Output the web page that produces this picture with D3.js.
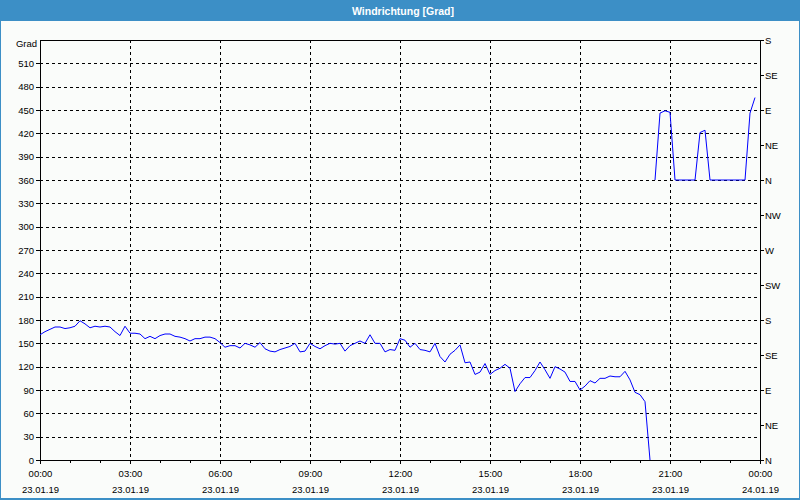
<!DOCTYPE html>
<html><head><meta charset="utf-8">
<script src="https://cdn.jsdelivr.net/npm/d3@7"></script>
<style>
body{margin:0;background:#fff;}
svg{display:block;}
</style></head><body>
<svg id="chart" width="800" height="500"></svg>
<script>
// ---------- data ----------
const chartTitle = "Windrichtung [Grad]";
const yUnitLabel = "Grad";
const startTime = new Date(2019, 0, 23, 0, 0);
const endTime = new Date(2019, 0, 24, 0, 0);
const stepMinutes = 10;
const gradTicks = [0, 30, 60, 90, 120, 150, 180, 210, 240, 270, 300, 330, 360, 390, 420, 450, 480, 510];
const compassTicks = [0, 45, 90, 135, 180, 225, 270, 315, 360, 405, 450, 495, 540];
const compassLabels = ["N", "NE", "E", "SE", "S", "SW", "W", "NW", "N", "NE", "E", "SE", "S"];
// segment 1: starts 00:00, one value every 10 min
const directionBefore = [
  161, 165, 168, 171, 171, 169, 170, 172, 179, 175, 170, 172, 171, 172, 171, 165,
  160, 172, 163, 163, 162, 156, 159, 156, 160, 162, 162, 159, 158, 156, 153, 156,
  156, 158, 158, 156, 151, 145, 147, 147, 144, 150, 148, 145, 151, 143, 140, 139,
  142, 144, 146, 150, 139, 140, 150, 146, 143, 147, 150, 149, 150, 140, 147, 150,
  153, 150, 161, 150, 150, 139, 142, 141, 156, 154, 145, 150, 142, 141, 139, 150,
  133, 126, 136, 141, 148, 125, 126, 110, 113, 124, 110, 115, 118, 123, 118, 88,
  98, 106, 106, 115, 126, 116, 105, 120, 117, 113, 101, 101, 90, 95, 102, 99,
  105, 105, 108, 107, 107, 114, 103, 87, 84, 75, 0
];
// segment 2: starts at step index 123 (20:30)
const directionAfterStartStep = 123;
const directionAfter = [
  360, 446, 449, 447, 360, 360, 360, 360, 360, 421, 424, 360, 360, 360, 360, 360,
  360, 360, 360, 446, 466
];

// ---------- layout ----------
const W = 800, H = 500;
const plot = {left: 40, right: 760, top: 40, bottom: 460};
const fontFamily = "'Liberation Sans', Arial, sans-serif";
const svg = d3.select("#chart");

svg.append("rect").attr("x", 0).attr("y", 0).attr("width", W).attr("height", H).attr("fill", "#3c8fc6");
svg.append("rect").attr("x", 1).attr("y", 21).attr("width", W - 2).attr("height", H - 23).attr("fill", "#fafcfa");
svg.append("text").attr("x", 403).attr("y", 14.5).attr("text-anchor", "middle")
  .attr("font-family", fontFamily).attr("font-weight", "bold").attr("font-size", "10.5px")
  .attr("fill", "#ffffff").text(chartTitle);

const x = d3.scaleTime().domain([startTime, endTime]).range([plot.left, plot.right]);
const y = d3.scaleLinear().domain([0, 540]).range([plot.bottom, plot.top]);

// grid
const gridG = svg.append("g").attr("stroke", "#000").attr("stroke-dasharray", "3,3")
  .attr("shape-rendering", "crispEdges");
gridG.selectAll("line.h").data(gradTicks.filter(v => v > 0)).enter().append("line")
  .attr("x1", plot.left).attr("x2", plot.right)
  .attr("y1", d => Math.round(y(d)) + 0.5).attr("y2", d => Math.round(y(d)) + 0.5);
const majorTimes = d3.timeHour.every(3).range(startTime, d3.timeMinute.offset(endTime, 1));
gridG.selectAll("line.v").data(majorTimes.slice(1, -1)).enter().append("line")
  .attr("y1", plot.top).attr("y2", plot.bottom)
  .attr("x1", d => Math.round(x(d)) + 0.5).attr("x2", d => Math.round(x(d)) + 0.5);

// top frame
svg.append("line").attr("x1", plot.left).attr("x2", plot.right + 1)
  .attr("y1", plot.top + 0.5).attr("y2", plot.top + 0.5).attr("stroke", "#000");

function styleAxis(g) {
  g.attr("font-family", fontFamily).attr("font-size", "9.5px");
  g.selectAll("path, line").attr("stroke", "#000").attr("shape-rendering", "crispEdges");
  g.selectAll("text").attr("fill", "#000");
}

// left axis
const leftG = svg.append("g").attr("transform", `translate(${plot.left},0)`)
  .call(d3.axisLeft(y).tickValues(gradTicks).tickSize(4).tickSizeOuter(0).tickPadding(2))
  .call(styleAxis);
leftG.selectAll(".tick text").attr("dy", "0.34em");
svg.append("text").attr("x", 37).attr("y", 47).attr("text-anchor", "end")
  .attr("font-family", fontFamily).attr("font-size", "9.5px").attr("fill", "#000").text(yUnitLabel);

// right axis
svg.append("g").attr("transform", `translate(${plot.right},0)`)
  .call(d3.axisRight(y).tickValues(compassTicks).tickSize(4).tickSizeOuter(0).tickPadding(1)
    .tickFormat((d, i) => compassLabels[i]))
  .call(styleAxis);

// bottom axis: minor hourly ticks
const hourTimes = d3.timeHour.every(1).range(startTime, d3.timeMinute.offset(endTime, 1));
svg.append("g").attr("transform", `translate(0,${plot.bottom})`)
  .call(d3.axisBottom(x).tickValues(hourTimes).tickSize(3).tickSizeOuter(0).tickFormat(""))
  .call(styleAxis);
const fmtTime = d3.timeFormat("%H:%M"), fmtDate = d3.timeFormat("%d.%m.%y");
const bottomG = svg.append("g").attr("transform", `translate(0,${plot.bottom})`)
  .call(d3.axisBottom(x).tickValues(majorTimes).tickSize(4).tickSizeOuter(0).tickFormat(fmtTime))
  .call(styleAxis);
bottomG.selectAll(".tick text").each(function(d) {
  const t = d3.select(this);
  t.text(null).attr("y", 0).attr("dy", null);
  t.append("tspan").attr("x", 0).attr("y", 17).text(fmtTime(d));
  t.append("tspan").attr("x", 0).attr("y", 33).text(fmtDate(d));
});

// data lines
const stepTime = i => d3.timeMinute.offset(startTime, i * stepMinutes);
const line = d3.line().x(d => x(d.t)).y(d => y(d.v));
const seg1 = directionBefore.map((v, i) => ({t: stepTime(i), v}));
const seg2 = directionAfter.map((v, i) => ({t: stepTime(directionAfterStartStep + i), v}));
[seg1, seg2].forEach(seg => {
  svg.append("path").datum(seg).attr("d", line)
    .attr("fill", "none").attr("stroke", "#0000ff").attr("stroke-width", 1);
});
</script>
</body></html>
